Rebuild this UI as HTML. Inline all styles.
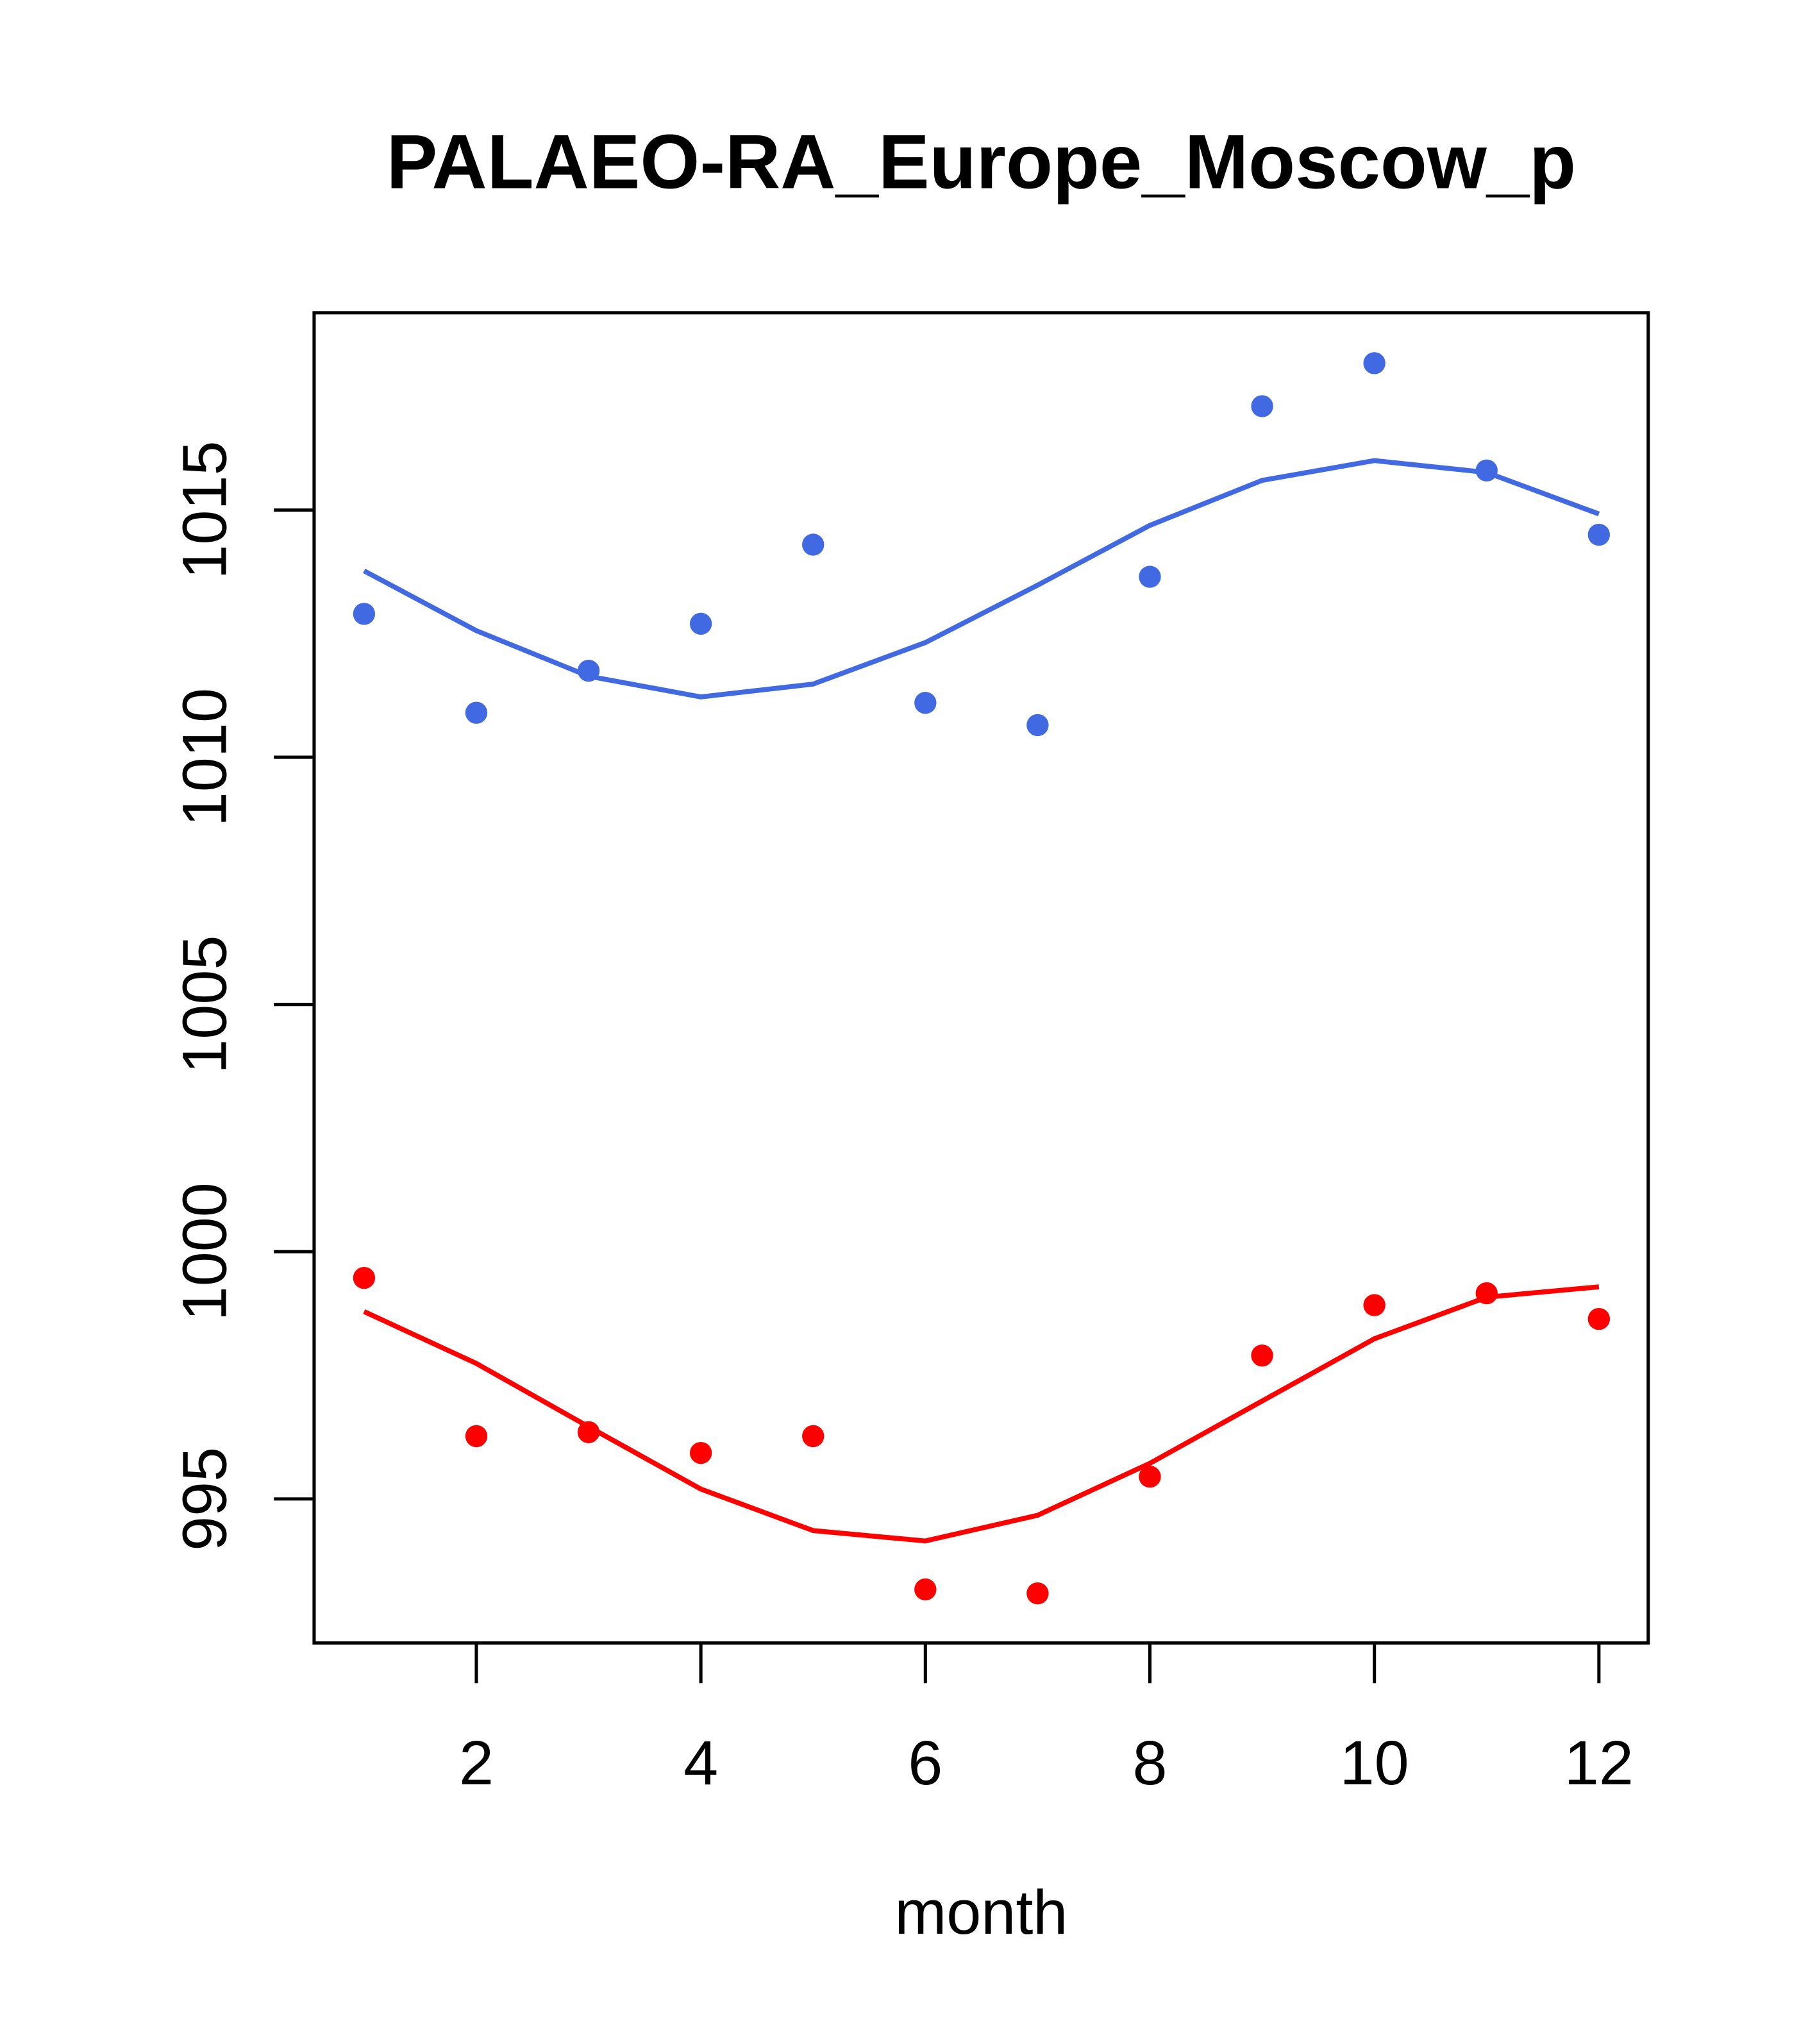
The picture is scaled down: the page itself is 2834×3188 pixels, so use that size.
<!DOCTYPE html>
<html><head><meta charset="utf-8"><style>html,body{margin:0;padding:0;background:#fff}svg{display:block}</style></head>
<body>
<svg id="chart" width="2834" height="3188" viewBox="0 0 1400 1575" xmlns="http://www.w3.org/2000/svg" font-family="Liberation Sans, sans-serif">
<rect width="1400" height="1575" fill="#fff"/>
<text x="756" y="145" text-anchor="middle" font-size="59" font-weight="bold">PALAEO-RA_Europe_Moscow_p</text>
<rect x="242" y="241" width="1028" height="1025" fill="none" stroke="#000" stroke-width="2.5"/>
<text x="756" y="1490" text-anchor="middle" font-size="48">month</text>
<g id="xaxis"></g>
<g id="yaxis"></g>
<g id="series"></g>
</svg>
<script>
const months=[1,2,3,4,5,6,7,8,9,10,11,12];
const bluePoints=[1012.9,1010.9,1011.75,1012.7,1014.3,1011.1,1010.65,1013.65,1017.1,1017.97,1015.8,1014.5];
const blueLine=[1013.77,1012.56,1011.64,1011.22,1011.48,1012.32,1013.48,1014.69,1015.6,1016.0,1015.76,1014.92];
const redPoints=[999.47,996.27,996.35,995.93,996.27,993.17,993.09,995.45,997.9,998.92,999.16,998.64];
const redLine=[998.79,997.74,996.46,995.2,994.36,994.15,994.67,995.72,996.98,998.24,999.08,999.29];
const xTicks=[2,4,6,8,10,12];
const yTicks=[995,1000,1005,1010,1015];
const NS='http://www.w3.org/2000/svg';
const xs=m=>367+(m-2)*86.5;
const ys=v=>393-(v-1015)*38.1;
function mk(tag,attrs,parent){const e=document.createElementNS(NS,tag);for(const k in attrs)e.setAttribute(k,attrs[k]);parent.appendChild(e);return e;}
const xa=document.getElementById('xaxis'),ya=document.getElementById('yaxis'),sg=document.getElementById('series');
xTicks.forEach(t=>{
  const l=mk('line',{x1:xs(t),x2:xs(t),y1:1266,y2:1297,stroke:'#000','stroke-width':2.5},xa);
  
  
  const tx=mk('text',{x:xs(t),y:1375,'text-anchor':'middle','font-size':48},xa);tx.textContent=t;
  
  
});
yTicks.forEach(t=>{
  const l=mk('line',{x1:211,x2:242,y1:ys(t),y2:ys(t),stroke:'#000','stroke-width':2.5},ya);
  
  
  const tx=mk('text',{x:0,y:0,'text-anchor':'middle','font-size':48,transform:`translate(174,${ys(t)}) rotate(-90)`},ya);tx.textContent=t;
  
  
});
function series(pts,line,color,name){
  const p=mk('polyline',{points:months.map((m,i)=>xs(m)+','+ys(line[i])).join(' '),fill:'none',stroke:color,'stroke-width':3.8},sg);
  
  
  months.forEach((m,i)=>{
    const c=mk('circle',{cx:xs(m),cy:ys(pts[i]),r:8.5,fill:color},sg);
    
    
  });
}
series(bluePoints,blueLine,'#4169E1','blue');
series(redPoints,redLine,'#FF0000','red');
</script>
</body></html>
